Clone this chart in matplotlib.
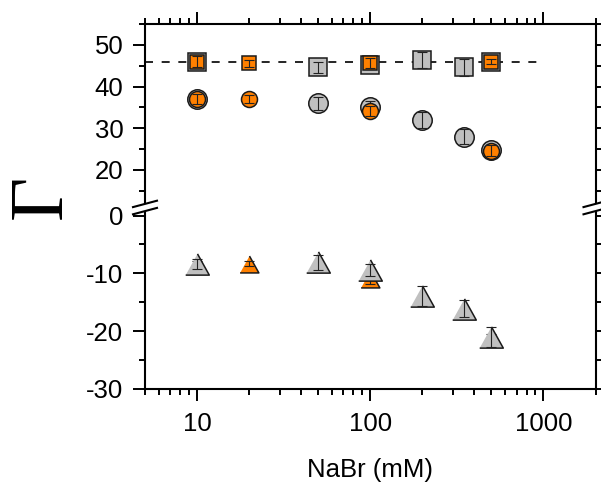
import matplotlib
matplotlib.use("Agg")
import matplotlib.pyplot as plt
from matplotlib.ticker import FixedLocator, NullFormatter, LogLocator
from matplotlib.lines import Line2D
from matplotlib.patches import Polygon

plt.rcParams['font.family'] = ['Liberation Sans', 'DejaVu Sans']
plt.rcParams['axes.unicode_minus'] = False

# ---- data ----
x_gray = [10, 50, 100, 200, 350, 500]
sq_gray = [46.0, 44.6, 45.2, 46.4, 44.6, 46.0]
sq_gray_err = [1.2, 1.3, 1.0, 2.0, 2.0, 0.8]
ci_gray = [37.0, 36.0, 35.0, 32.0, 28.0, 24.8]
ci_gray_err = [1.3, 1.6, 1.5, 2.0, 1.8, 1.2]
tri_gray = [-8.4, -8.1, -9.4, -13.9, -16.1, -21.0]
tri_gray_err = [0.9, 1.3, 1.1, 1.8, 1.5, 1.8]

x_orange = [10, 20, 100, 500]
sq_or = [46.0, 45.6, 45.6, 46.0]
sq_or_err = [1.3, 0.8, 1.2, 0.5]
ci_or = [37.0, 37.0, 34.2, 24.6]
ci_or_err = [1.3, 0.9, 1.2, 1.3]
tri_or = [-8.6, -8.3, -11.0, -21.2]
tri_or_err = [0.8, 0.4, 0.8, 0.8]

ref_x = [5, 1000]
ref_y = [45.9, 45.9]

upper_ticks = [20, 30, 40, 50]
upper_labels = ['20', '30', '40', '50']
lower_ticks = [0, -10, -20, -30]
lower_labels = ['0', '-10', '-20', '-30']
x_ticks = [10, 100, 1000]
x_labels = ['10', '100', '1000']

GRAY = '#c0c0c0'
ORANGE = '#ff8000'
EDGE = '#1a1a1a'
ECOL = '#222222'

W, H = 601, 488
fig = plt.figure(figsize=(W / 100, H / 100), dpi=100)

L, R = 145 / W, 595.5 / W
ytop, ymid, ybot = 24, 207.5, 389
ax_u = fig.add_axes([L, 1 - ymid / H, R - L, (ymid - ytop) / H])
ax_l = fig.add_axes([L, 1 - ybot / H, R - L, (ybot - ymid) / H])

tri = [(-1, -0.9), (1, -0.9), (0, 0.9)]

def series(ax, x, y, e, marker, ms, color, z):
    ax.plot(x, y, linestyle='none', marker=marker, ms=ms, mfc=color,
            mec=EDGE, mew=1.1, zorder=z, clip_on=False)
    ax.errorbar(x, y, yerr=e, fmt='none', ecolor=ECOL, elinewidth=0.8,
                capsize=3.5, capthick=0.8, zorder=z + 0.5)

# upper: squares and circles (orange on top)
series(ax_u, x_gray, sq_gray, sq_gray_err, 's', 12.6, GRAY, 3)
series(ax_u, x_orange, sq_or, sq_or_err, 's', 10, ORANGE, 4)
series(ax_u, x_gray, ci_gray, ci_gray_err, 'o', 14, GRAY, 3)
series(ax_u, x_orange, ci_or, ci_or_err, 'o', 11.5, ORANGE, 4)
ax_u.plot(ref_x, ref_y, color='black', lw=1.2, dashes=(4.8, 5.2), zorder=2)

# lower: triangles (gray on top)
series(ax_l, x_orange, tri_or, tri_or_err, tri, 13.5, ORANGE, 3)
series(ax_l, x_gray, tri_gray, tri_gray_err, tri, 17, GRAY, 4)

for ax in (ax_u, ax_l):
    ax.set_xscale('log')
    ax.set_xlim(5, 2000)
    for s in ax.spines.values():
        s.set_linewidth(1.5)
    ax.yaxis.set_ticks_position('both')
    ax.tick_params(axis='both', which='major', direction='out', length=8.6,
                   width=1.4, labelsize=18.5)
    ax.tick_params(axis='both', which='minor', direction='out', length=4.3,
                   width=1.4)
    ax.tick_params(axis='y', which='both', left=True, right=True,
                   labelleft=True, labelright=False, pad=7)

ax_u.set_ylim(11, 55)
ax_l.set_ylim(-30, 1.4)
ax_u.spines['bottom'].set_visible(False)
ax_l.spines['top'].set_visible(False)

ax_u.set_yticks(upper_ticks)
ax_u.set_yticklabels(upper_labels)
ax_u.yaxis.set_minor_locator(FixedLocator([15, 25, 35, 45, 55]))
ax_l.set_yticks(lower_ticks)
ax_l.set_yticklabels(lower_labels)
ax_l.yaxis.set_minor_locator(FixedLocator([-5, -15, -25]))

for ax in (ax_u, ax_l):
    ax.xaxis.set_major_locator(FixedLocator(x_ticks))
    ax.xaxis.set_minor_locator(LogLocator(base=10, subs=range(2, 10)))
    ax.xaxis.set_minor_formatter(NullFormatter())

ax_u.tick_params(axis='x', which='both', bottom=False, top=True,
                 labelbottom=False, labeltop=False)
ax_l.tick_params(axis='x', which='both', bottom=True, top=False,
                 labelbottom=True, pad=8)
ax_l.set_xticklabels(x_labels)
ax_l.set_xlabel('NaBr (mM)', fontsize=18.5, labelpad=16)

# axis break marks
def brk(xc):
    yc = 207.5
    dx, dy, off = 12, 3.2, 3.6
    def P(x, y):
        return (x / W, 1 - y / H)
    poly = Polygon([P(xc - dx, yc + dy + off), P(xc + dx, yc - dy + off),
                    P(xc + dx, yc - dy - off), P(xc - dx, yc + dy - off)],
                   closed=True, transform=fig.transFigure, fc='white',
                   ec='none', zorder=10)
    fig.add_artist(poly)
    for o in (-off, off):
        fig.add_artist(Line2D([(xc - dx) / W, (xc + dx) / W],
                              [1 - (yc + dy + o) / H, 1 - (yc - dy + o) / H],
                              color='black', lw=1.5, zorder=11,
                              transform=fig.transFigure))

brk(145)
brk(595.5)

fig.text(42 / W, 1 - 197 / H, 'Γ', rotation=90, fontsize=55,
         family=['Liberation Serif', 'DejaVu Serif'], ha='center', va='center')

fig.savefig('out.png', dpi=100)
